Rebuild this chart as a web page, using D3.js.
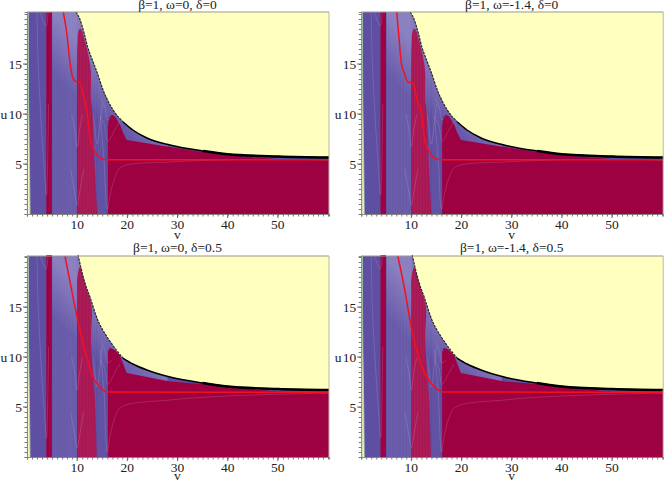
<!DOCTYPE html>
<html><head><meta charset="utf-8">
<script src="https://cdn.jsdelivr.net/npm/d3@7"></script>
<style>html,body{margin:0;padding:0;background:#fff}svg{display:block}text{font-family:"Liberation Serif",serif;fill:#222}</style>
</head><body><svg id="c" width="664" height="482"></svg>
<script>
const titles = ["β=1, ω=0, δ=0","β=1, ω=-1.4, δ=0","β=1, ω=0, δ=0.5","β=1, ω=-1.4, δ=0.5"];
const vLabels = [10,20,30,40,50];
const uLabels = [5,10,15];
const leftEdge = [[0.25,20.2],[0.3,12],[0.5,5],[0.6,0]];
const boundary0 = [[9.76,20.2],[10.56,19.46],[11.35,18.15],[12.15,16.6],[12.95,15.5],[13.94,14.2],[15.14,12.44],[17.13,10.43],[19.12,9.23],[21.1,8.4],[23.9,7.6],[28.5,6.9],[35.06,6.3],[40,5.98],[50,5.75],[60.2,5.65]];
const boundary5 = [[10.16,20.2],[11.55,17.4],[12.55,16],[13.94,13.9],[16.1,11.9],[16.5,11.6],[19.1,9.9],[21.1,9.3],[23.9,8.7],[28.5,8],[35,7.4],[40,7.05],[50,6.8],[60.2,6.7]];
const strip45 = [[3.85,0],[3.85,20.2],[4.95,20.2],[4.95,0]];
const band0 = [[10,0],[10,15.4],[10.06,16.95],[10.2,18.15],[10.56,18.55],[10.9,18.4],[11.35,17.65],[12,16.45],[12.7,14.45],[12.75,11.4],[13,10.4],[13.55,4.4],[14,0]];
const band5 = [[10,0],[10,16],[10.05,18],[10.56,19],[11.1,18.2],[11.95,16.7],[12.9,15],[12.75,12],[12.95,9.7],[13.55,5.7],[13.9,0]];
const floor0 = [[16.13,0],[16.13,8.75],[16.33,9.6],[16.87,9.93],[17.53,9.76],[18.53,8.93],[19.18,8.09],[19.86,7.4],[28.5,6.7],[35.06,6.2],[40,5.87],[50,5.5],[60.2,5.35],[60.2,0]];
const floor5 = [[16.13,0],[16.13,10.5],[16.5,10.93],[17.5,10.7],[18.5,10.2],[19.86,8.4],[28.5,7.55],[35,7.3],[40,7],[50,6.55],[60.2,6.35],[60.2,0]];
const red1 = [[7.23,20.2],[7.91,18.15],[8.57,15.15],[9.1,13.64],[9.76,13.24],[10.56,13.14],[11.1,12.14],[11.95,10.23],[12.55,7.72],[13.55,6.22],[14.54,5.62],[15.94,5.42],[60.2,5.42]];
const red2 = [[7.09,20.2],[7.5,17.8],[8,15.1],[8.65,14],[9.3,13.2],[10.3,13.1],[11.27,11.1],[12,10.2],[12.55,7.72],[13.55,6.22],[14.54,5.62],[15.94,5.42],[60.2,5.42]];
const red3 = [[7.57,20.1],[8.7,17.2],[9.9,14.2],[11.95,9.9],[13.15,8],[14.54,7],[15.94,6.5],[60.2,6.48]];
const red4 = [[7.3,20.1],[8.5,17.2],[10.1,12.7],[11.75,9.5],[13.7,7.5],[15.3,6.7],[16.3,6.5],[60.2,6.48]];
const tail0 = [[14.6,9.8],[15.4,5],[16,0.5],[16.6,2],[17.5,3.6],[18.8,4.7],[28.5,5.2],[40,5.42]];
const tail5 = [[14.6,10.8],[15.4,6],[16,0.5],[16.6,2.2],[17.5,3.9],[18.8,5],[28.5,5.7],[40,6.1],[60,6.4]];
const contours = [
 [[2,20.2],[2.2,15.4],[2.8,9.4],[3.4,4.9],[3.88,1.9],[4.08,4.4],[4.3,11]],
 [[2.6,20.2],[3.8,18.8],[4.2,20.2]],
 [[8.9,10],[9.5,8.5],[10,6.7],[10.5,8.5],[11.1,10]],
 [[8.7,4.5],[9.5,2.2],[10,0.9],[10.5,2.2],[11.3,4.5]],
 [[13.2,10],[14,7],[14.5,8.8],[15,11]],
 [[14.54,9.76],[15.5,8.8],[16.1,7.25],[17.5,8.42],[18.5,9.3]],
 [[14.8,11.5],[15.6,10.6],[16.1,9.4],[16.9,9.7]]
];
const stripes = [5.3,5.7,6,6.35,6.7,7,7.35,7.7,8,8.3,8.6,8.9,9.2,9.5,9.75,10.3,10.6,10.9,11.2,11.5,11.8,12.1,12.4,12.7,13,13.3,13.6,14.3,14.7,15.1,15.5];

const svg = d3.select("#c");
const W = 302;
const panels = [
 {l:27,t:12,b:214,top:20.2,title:0,bd:boundary0,band:band0,fl:floor0,red:red1,tail:tail0},
 {l:361.2,t:12,b:214,top:20.2,title:1,bd:boundary0,band:band0,fl:floor0,red:red2,tail:tail0},
 {l:27,t:256,b:457,top:20.1,title:2,bd:boundary5,band:band5,fl:floor5,red:red3,tail:tail5},
 {l:361.2,t:256,b:457,top:20.1,title:3,bd:boundary5,band:band5,fl:floor5,red:red4,tail:tail5}
];
const defs = svg.append("defs");
panels.forEach((p,i)=>{
  const x = d3.scaleLinear().domain([0,60.2]).range([p.l,p.l+W]);
  const y = d3.scaleLinear().domain([0,p.top]).range([p.b,p.t]);
  const line = d3.line().x(d=>x(d[0])).y(d=>y(d[1]));
  const smooth = d3.line().x(d=>x(d[0])).y(d=>y(d[1])).curve(d3.curveCatmullRom.alpha(0.5));
  const mono = d3.line().x(d=>x(d[0])).y(d=>y(d[1])).curve(d3.curveMonotoneX);
  const g = svg.append("g");
  defs.append("clipPath").attr("id","cl"+i).append("path")
    .attr("d",line(leftEdge.slice().reverse())+"L"+mono(p.bd).slice(1)+"L"+x(60.2)+","+y(0)+"Z");
  const grad = defs.append("linearGradient").attr("id","gr"+i).attr("gradientUnits","userSpaceOnUse")
    .attr("x1",x(11)).attr("y1",y(11)).attr("x2",x(17)).attr("y2",y(14));
  grad.append("stop").attr("offset",0).attr("stop-color","#b9b3e0").attr("stop-opacity",0);
  grad.append("stop").attr("offset",1).attr("stop-color","#b9b3e0").attr("stop-opacity",0.42);

  g.append("rect").attr("x",p.l).attr("y",p.t).attr("width",W).attr("height",p.b-p.t).attr("fill","#ffffbf");
  const inner = g.append("g").attr("clip-path",`url(#cl${i})`);
  inner.append("rect").attr("x",p.l).attr("y",p.t).attr("width",W).attr("height",p.b-p.t).attr("fill","#5e4fa2");
  inner.append("rect").attr("x",x(5)).attr("y",p.t).attr("width",x(10)-x(5)).attr("height",p.b-p.t).attr("fill","#6558a8");
  inner.append("rect").attr("x",x(5)).attr("y",p.t).attr("width",x(28)-x(5)).attr("height",p.b-p.t).attr("fill",`url(#gr${i})`);
  inner.append("path").attr("d",line(strip45)+"Z").attr("fill","#9e0142");
  inner.append("path").attr("d",smooth(p.band)+"Z").attr("fill","#a8134f");
  inner.append("path").attr("d",line(p.fl)+"Z").attr("fill","#9e0142");
  inner.selectAll("line.s").data(stripes).join("line").attr("x1",d=>x(d)).attr("x2",d=>x(d)).attr("y1",p.t).attr("y2",p.b)
    .attr("stroke","#d9c4e6").attr("stroke-opacity",0.09).attr("stroke-width",0.8);
  inner.selectAll("path.c").data(contours.concat([p.tail])).join("path").attr("d",d=>smooth(d)).attr("fill","none")
    .attr("stroke","#d8bcd8").attr("stroke-opacity",0.25).attr("stroke-width",0.8);

  g.append("path").attr("d",mono(p.bd.filter(d=>d[0]<=20))).attr("fill","none").attr("stroke","#2b2b2b").attr("stroke-width",1.2).attr("stroke-dasharray","2.5 1");
  g.append("path").attr("d",mono(p.bd.filter(d=>d[0]>=19))).attr("fill","none").attr("stroke","#000").attr("stroke-width",1.5);
  g.append("path").attr("d",mono(p.bd.filter(d=>d[0]>=35))).attr("fill","none").attr("stroke","#000").attr("stroke-width",2.4);
  g.append("path").attr("d",mono(p.red)).attr("fill","none").attr("stroke","#f5101f").attr("stroke-width",1.5);
  g.append("path").attr("d",smooth(leftEdge)).attr("fill","none").attr("stroke","#9fd6b0").attr("stroke-width",0.9);

  const ax = d3.axisBottom(x).tickValues(x.ticks(60)).tickSize(2.5).tickFormat("");
  const ay = d3.axisLeft(y).tickValues(y.ticks(40)).tickSize(2.5).tickFormat("");
  const gx = svg.append("g").attr("transform",`translate(0,${p.b})`).call(ax);
  const gy = svg.append("g").attr("transform",`translate(${p.l},0)`).call(ay);
  [gx,gy].forEach(a=>{a.select(".domain").attr("stroke","#8a8a80").attr("stroke-width",1.2);a.selectAll(".tick line").attr("stroke","#777");});
  svg.append("line").attr("x1",p.l).attr("x2",p.l+W).attr("y1",p.t).attr("y2",p.t).attr("stroke","#9a9a90").attr("stroke-width",1.2);
  svg.append("line").attr("x1",p.l+W).attr("x2",p.l+W).attr("y1",p.t).attr("y2",p.b).attr("stroke","#b8b8a0").attr("stroke-width",1);

  svg.selectAll(null).data(vLabels).join("text").attr("x",d=>x(d)).attr("y",p.b+15).attr("text-anchor","middle").attr("font-size",13.5).text(d=>d);
  svg.selectAll(null).data(vLabels).join("line").attr("x1",d=>x(d)).attr("x2",d=>x(d)).attr("y1",p.b).attr("y2",p.b+4).attr("stroke","#666");
  svg.selectAll(null).data(uLabels).join("text").attr("x",p.l-5).attr("y",d=>y(d)+4.5).attr("text-anchor","end").attr("font-size",13.5).text(d=>d);
  svg.selectAll(null).data(uLabels).join("line").attr("x1",p.l-4).attr("x2",p.l).attr("y1",d=>y(d)).attr("y2",d=>y(d)).attr("stroke","#666");
  svg.append("text").attr("x",p.l-26.5).attr("y",y(10)+4.5).attr("font-size",13.5).text("u");
  svg.append("text").attr("x",x(30)).attr("y",p.b+(p.b>300?23:25)).attr("text-anchor","middle").attr("font-size",13.5).text("v");
  svg.append("text").attr("x",x(30)).attr("y",p.t-(p.b>300?4:3)).attr("text-anchor","middle").attr("font-size",13.5).text(titles[p.title]);
});
</script></body></html>
